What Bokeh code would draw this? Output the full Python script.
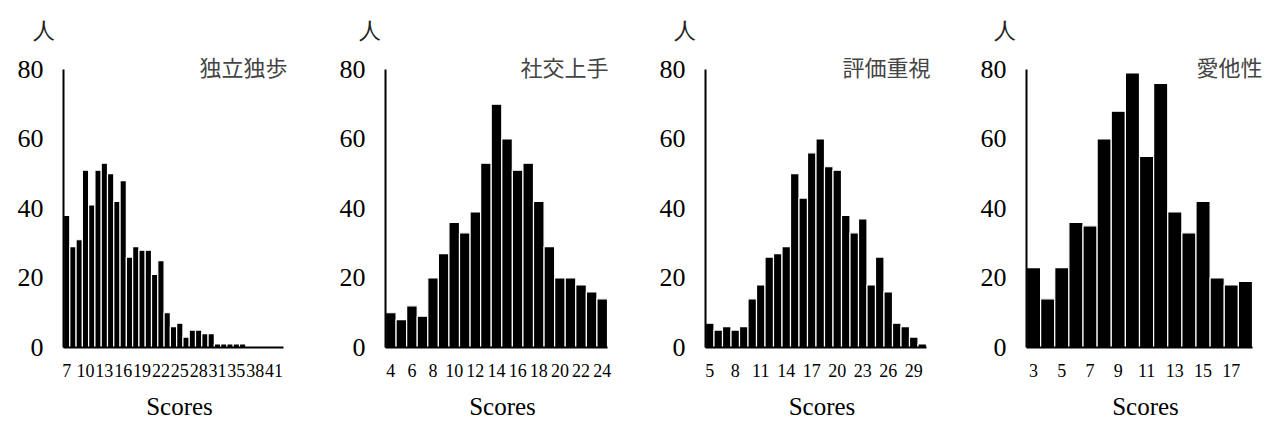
from bokeh.plotting import figure
from bokeh.layouts import row
from bokeh.models import Range1d, FixedTicker, Label
from bokeh.embed import file_html
from bokeh.resources import INLINE

titles = ["独立独歩", "社交上手", "評価重視", "愛他性"]

scores1 = [7, 8, 9, 10, 11, 12, 13, 14, 15, 16, 17, 18, 19, 20, 21, 22, 23, 24,
           25, 26, 27, 28, 29, 30, 31, 32, 34, 35, 36, 37, 38, 39, 40, 41, 42]
counts1 = [38, 29, 31, 51, 41, 51, 53, 50, 42, 48, 26, 29, 28, 28, 21, 25, 10, 6,
           7, 3, 5, 5, 4, 4, 1, 1, 1, 1, 1, 0, 0, 0, 0, 0, 0]
ticks1 = ["7", "10", "13", "16", "19", "22", "25", "28", "31", "35", "38", "41"]

scores2 = [4, 5, 6, 7, 8, 9, 10, 11, 12, 13, 14, 15, 16, 17, 18, 19, 20, 21, 22, 23, 24]
counts2 = [10, 8, 12, 9, 20, 27, 36, 33, 39, 53, 70, 60, 51, 53, 42, 29, 20, 20, 18, 16, 14]
ticks2 = ["4", "6", "8", "10", "12", "14", "16", "18", "20", "22", "24"]

scores3 = [5, 6, 7, 8, 9, 10, 11, 12, 13, 14, 15, 16, 17, 18, 19, 20, 21, 22, 23,
           24, 25, 26, 27, 28, 29, 30]
counts3 = [7, 5, 6, 5, 6, 14, 18, 26, 27, 29, 50, 43, 56, 60, 52, 51, 38, 33, 37,
           18, 26, 16, 7, 6, 3, 1]
ticks3 = ["5", "8", "11", "14", "17", "20", "23", "26", "29"]

scores4 = [3, 4, 5, 6, 7, 8, 9, 10, 11, 12, 13, 14, 15, 16, 17, 18]
counts4 = [23, 14, 23, 36, 35, 60, 68, 79, 55, 76, 39, 33, 42, 20, 18, 19]
ticks4 = ["3", "5", "7", "9", "11", "13", "15", "17"]

y_ticks = [0, 20, 40, 60, 80]
y_max = 80
x_title = "Scores"
y_unit = "人"

panels = [(scores1, counts1, ticks1), (scores2, counts2, ticks2),
          (scores3, counts3, ticks3), (scores4, counts4, ticks4)]

# layout (pixels)
widths = [330, 320, 321, 297]
lefts = [63, 55, 55, 55]
bar_widths_px = [220, 222, 221, 226]   # width of the bar area
extra_right = 12                        # frame room for the panel title
plot_h = 280                            # pixels from 0 to 80
extra_top = 12                          # frame room above 80
top_border = 56
height = 422
title_offsets = [4, 1, 4, 10]
unit_offsets = [-31, -27, -32, -33]

SERIF = "Liberation Serif"
CJK = "Noto Sans CJK JP"

figs = []
for i, (scores, counts, ticks) in enumerate(panels):
    n = len(scores)
    fw = bar_widths_px[i] + extra_right
    right = widths[i] - lefts[i] - fw
    fh = plot_h + extra_top
    x_end = -0.5 + n * fw / bar_widths_px[i]
    y_end = y_max * fh / plot_h
    p = figure(width=widths[i], height=height, output_backend="svg",
               toolbar_location=None, x_range=Range1d(-0.5, x_end),
               y_range=Range1d(0, y_end), min_border_left=lefts[i],
               min_border_right=right, min_border_top=top_border,
               min_border_bottom=height - top_border - fh)
    p.outline_line_color = None
    p.grid.grid_line_color = None
    xs = list(range(n))
    p.vbar(x=xs, top=counts, width=1.0, bottom=0, fill_color="black",
           line_color="white", line_width=1.2)

    tick_idx = [scores.index(int(t)) for t in ticks]
    p.xaxis.ticker = FixedTicker(ticks=tick_idx)
    p.xaxis.major_label_overrides = {k: t for k, t in zip(tick_idx, ticks)}
    p.xaxis.bounds = (-0.5, n - 0.5)
    p.yaxis.ticker = FixedTicker(ticks=y_ticks)
    p.yaxis.bounds = (0, y_max)
    for ax in (p.xaxis[0], p.yaxis[0]):
        ax.axis_line_width = 2
        ax.axis_line_color = "black"
        ax.major_tick_line_color = None
        ax.minor_tick_line_color = None
        ax.major_tick_out = 0
        ax.major_tick_in = 0
        ax.major_label_text_font = SERIF
        ax.major_label_text_color = "black"
    p.yaxis.major_label_text_font_size = "26px"
    p.yaxis.major_label_standoff = 20
    p.xaxis.major_label_text_font_size = "18px"
    p.xaxis.major_label_standoff = 16
    p.xaxis.axis_label = x_title
    p.xaxis.axis_label_text_font = SERIF
    p.xaxis.axis_label_text_font_style = "normal"
    p.xaxis.axis_label_text_font_size = "25px"
    p.xaxis.axis_label_text_color = "black"
    p.xaxis.axis_label_standoff = 13

    p.title.text = y_unit
    p.title.align = "left"
    p.title.offset = unit_offsets[i]
    p.title.standoff = 30
    p.title.text_font = SERIF
    p.title.text_font_size = "22px"
    p.title.text_font_style = "normal"
    p.title.text_color = "#222222"

    p.add_layout(Label(x=n - 0.5, y=y_max, x_offset=title_offsets[i], y_offset=3,
                       text=titles[i], text_align="right", text_baseline="middle",
                       text_font=CJK, text_font_size="22px",
                       text_color="#444444"))
    figs.append(p)

layout = row(*figs, spacing=0)
open("out.html", "w").write(file_html(layout, INLINE))
